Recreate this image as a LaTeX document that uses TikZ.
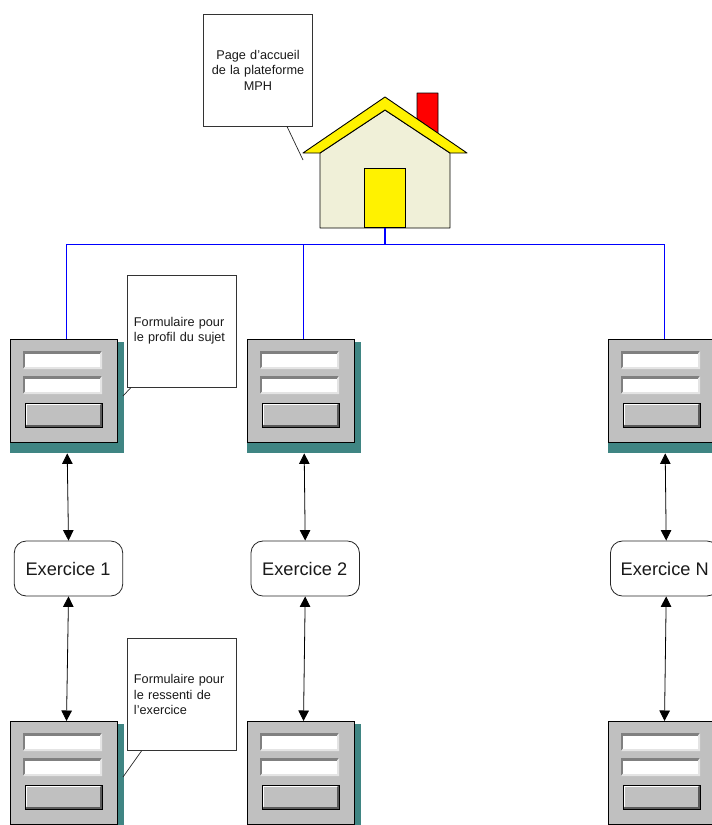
\documentclass[tikz,border=0pt]{standalone}
\usepackage{fontspec}
\setmainfont{Liberation Sans}
\usetikzlibrary{arrows.meta,calc}
\definecolor{formgrey}{HTML}{C0C0C0}
\definecolor{formteal}{HTML}{3F8583}
\definecolor{bevdark}{HTML}{808080}
\definecolor{bevlight}{HTML}{E4E4E4}
\definecolor{wallcol}{HTML}{F0F0D8}
\definecolor{inktext}{HTML}{1A1A1A}
\tikzset{
  formframe/.style={draw=black,fill=formgrey,line width=0.9pt,minimum width=107pt,minimum height=103pt,inner sep=0pt,anchor=north west},
  formshadow/.style={fill=formteal,minimum width=114pt,minimum height=111pt,inner sep=0pt,anchor=north west},
  bubble/.style={draw=black!80,fill=white,line width=0.9pt,text width=95.5pt,inner xsep=6.5pt,inner ysep=0pt,minimum height=112pt,text=inktext,font=\fontsize{12.7}{15.4}\selectfont},
  pointer/.style={draw=black!85,line width=0.7pt},
  exbox/.style={draw=black!85,fill=white,rounded corners=12pt,line width=0.8pt,minimum width=108.5pt,minimum height=55pt,inner sep=0pt,text=inktext,font=\fontsize{18.2}{20}\selectfont},
  link/.style={draw=black,line width=0.8pt,{Triangle[length=10.5pt,width=10.5pt]}-{Triangle[length=10.5pt,width=10.5pt]}},
  bluelink/.style={draw=blue,line width=0.8pt},
  houseline/.style={draw=black,line width=0.9pt,line join=round}
}
\newcommand{\inputfield}[1]{%
  \fill[bevdark] (13,#1) rectangle (92,#1+18);
  \fill[bevlight] (92,#1) -- (92,#1+18) -- (13,#1+18) -- (15,#1+15.5) -- (90,#1+15.5) -- (90,#1+2.5) -- cycle;
  \fill[white] (15,#1+2.5) rectangle (90,#1+15.5);
}
\newcommand{\formbox}[3]{%
  \begin{scope}[shift={(#2,#3)}]
    \node[formshadow] (#1s) at (0,3) {};
    \node[formframe] (#1) at (0,0) {};
    \coordinate (#1t) at (56.5,0);
    \inputfield{12}
    \inputfield{37}
    \fill[white] (15,64) rectangle (92,88);
    \fill[bevdark!70!black] (92,64) -- (92,88) -- (15,88) -- (17,85.5) -- (90,85.5) -- (90,66) -- cycle;
    \fill[formgrey] (17,66) rectangle (90,85.5);
    \draw[black,line width=0.7pt] (15,64) rectangle (92,88);
  \end{scope}
}
\begin{document}
\begin{tikzpicture}[x=1pt,y=-1pt]
\useasboundingbox (0,0) rectangle (712,825);
\clip (0,0) rectangle (712,825);
% house
\draw[houseline,fill=red] (417,119) -- (417,93) -- (438,93) -- (438,134) -- cycle;
\draw[houseline,fill=wallcol] (320,153) -- (385,110) -- (450,153) -- (450,228) -- (320,228) -- cycle;
\draw[houseline,fill=yellow] (385,97) -- (467,153) -- (450,153) -- (385,110) -- (320,153) -- (303,153) -- cycle;
\node[draw=black,line width=0.9pt,fill=yellow,minimum width=41pt,minimum height=59pt,inner sep=0pt,anchor=south] (door) at (385,228) {};
% forms
\formbox{fa}{10}{339}
\formbox{fb}{247}{339}
\formbox{fc}{608}{339}
\formbox{ga}{10}{721}
\formbox{gb}{247}{721}
\formbox{gc}{608}{721}
% blue tree
\coordinate (hub) at (385,244);
\draw[bluelink,line width=1.2pt] (door.south) -- (hub);
\draw[bluelink] (fat) -- (fat |- hub) -- (fct |- hub) -- (fct);
\draw[bluelink] (fbt) -- (fbt |- hub);
% exercises
\node[exbox] (ea) at (68.5,568.5) {\kern-1pt Exercice 1};
\node[exbox] (eb) at (305.2,568.5) {\kern-1pt Exercice 2};
\node[exbox] (ec) at (664.7,568.5) {Exercice N};
\draw[link] (fas.south) -- (ea.north);
\draw[link] (fbs.south) -- (eb.north);
\draw[link] (fcs.south) -- ($(ec.north)+(1.5,0)$);
\draw[link] (ea.south) -- (gat);
\draw[link] (eb.south) -- (gbt);
\draw[link] ($(ec.south)+(1.5,0)$) -- (gct);
% callouts
\node[bubble,align=center] (ba) at (258,70) {Page d’accueil\\de la plateforme\\MPH};
\node[bubble,align=left] (bb) at (181.7,331) {Formulaire pour\\le profil du sujet};
\node[bubble,align=left] (bc) at (181.7,694.5) {Formulaire pour\\le ressenti de\\l’exercice};
\coordinate (pa) at (303,160);
\coordinate (pb) at (123,396);
\coordinate (pc) at (123,777);
\draw[pointer] ($(ba.south)+(29,0)$) -- (pa);
\draw[pointer] ($(bb.south west)+(4,0)$) -- (pb);
\draw[pointer] ($(bc.south west)+(14.5,0)$) -- (pc);
\end{tikzpicture}
\end{document}
